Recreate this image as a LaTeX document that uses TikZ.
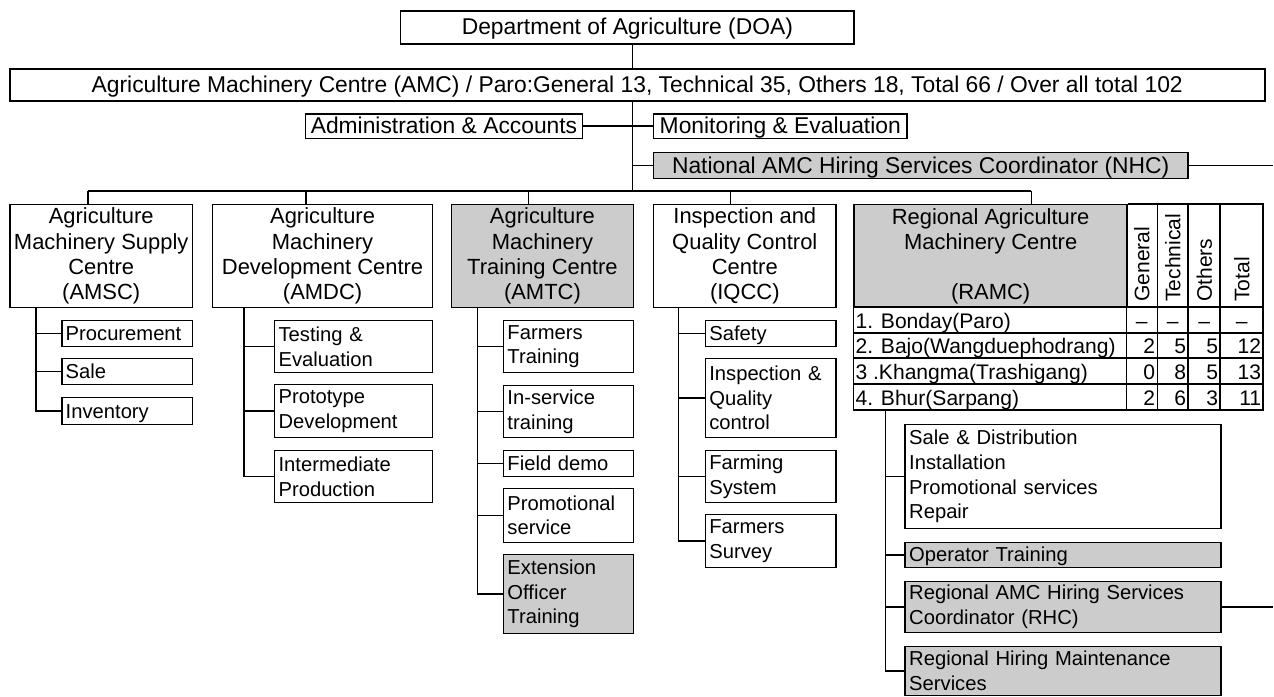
\documentclass[tikz,border=0pt]{standalone}
\usepackage{fontspec}
\setmainfont{Liberation Sans}

\tikzstyle{unit} = [rectangle, draw, line width=0.9pt, inner sep=0pt, anchor=north west, align=center]
\tikzstyle{office} = [unit, font=\fontsize{13}{15}\selectfont, text height=11pt, text depth=2.4pt]
\tikzstyle{centre} = [unit, font=\fontsize{12.5}{14.5}\selectfont]
\tikzstyle{task} = [unit, align=left, inner xsep=0.08cm, font=\fontsize{11.5}{14}\selectfont]
\tikzstyle{oneline} = [text height=10pt, text depth=2pt]
\tikzstyle{shaded} = [fill=gray!40]
\tikzstyle{line} = [draw, line width=0.9pt]
\tikzstyle{cell} = [inner sep=1pt, text height=10.5pt, text depth=1pt]
\tikzstyle{head} = [inner sep=1pt, rotate=90, anchor=west]
% one width per column of tasks
\tikzstyle{supplycol} = [task, text width=2.46cm]
\tikzstyle{develcol} = [task, text width=3.0cm]
\tikzstyle{traincol} = [task, text width=2.44cm]
\tikzstyle{inspectcol} = [task, text width=2.46cm]
\tikzstyle{regioncol} = [task, text width=6.16cm]

\begin{document}
\begin{tikzpicture}[x=0.02cm, y=-0.02cm, font=\fontsize{12}{14}\selectfont]
    \path[fill=white] (0,0) rectangle (1274,697);

    % head office
    \node[office, minimum width=9.08cm, minimum height=0.66cm] (DOA) at (400,10)
            {Department of Agriculture (DOA)};
    \node[office, minimum width=25.12cm, minimum height=0.64cm] (AMC) at (9,68)
            {Agriculture Machinery Centre (AMC) / Paro:General 13, Technical 35, Others 18, Total 66 / Over all total 102};
    \node[office, minimum width=5.54cm, minimum height=0.5cm] (Admin) at (305,113)
            {Administration \& Accounts};
    \node[office, minimum width=5.08cm, minimum height=0.5cm] (Monitor) at (653,113)
            {Monitoring \& Evaluation};
    \node[office, shaded, minimum width=10.7cm, minimum height=0.52cm] (NHC) at (653,152)
            {National AMC Hiring Services Coordinator (NHC)};

    % centres
    \node[centre, minimum width=3.66cm, minimum height=2.06cm] (AMSC) at (9,204)
            {Agriculture\\Machinery Supply\\Centre\\(AMSC)};
    \node[centre, minimum width=4.4cm, minimum height=2.06cm] (AMDC) at (212,204)
            {Agriculture\\Machinery\\Development Centre\\(AMDC)};
    \node[centre, shaded, minimum width=3.64cm, minimum height=2.06cm] (AMTC) at (451,204)
            {Agriculture\\Machinery\\Training Centre\\(AMTC)};
    \node[centre, minimum width=3.66cm, minimum height=2.06cm] (IQCC) at (653,204)
            {Inspection and\\Quality Control\\Centre\\(IQCC)};
    \node[centre, shaded, minimum width=5.46cm, minimum height=2.06cm] (RAMC) at (854,204)
            {Regional Agriculture\\Machinery Centre\\[14pt](RAMC)};

    % RAMC staff table
    \draw[line] (RAMC.north east) -- (1264,204) -- (1264,410) -- (854,410) -- (RAMC.south west)
        (854,307) -- (1264,307) (854,333) -- (1264,333)
        (854,358) -- (1264,358) (854,384) -- (1264,384)
        (1127,204) -- (1127,410) (1158,204) -- (1158,410)
        (1189,204) -- (1189,410) (1221,204) -- (1221,410);
    \node[head] (hGeneral) at (1142.5,304) {General};
    \node[head] (hTechnical) at (1173.5,304) {Technical};
    \node[head] (hOthers) at (1205,304) {Others};
    \node[head] (hTotal) at (1242.5,304) {Total};

    \node[cell, anchor=west] (Bonday) at (854,320) {1. Bonday(Paro)};
    \node[cell] at (1142.5,320) {--};
    \node[cell] at (1173.5,320) {--};
    \node[cell] at (1205,320) {--};
    \node[cell] at (1242.5,320) {--};
    \node[cell, anchor=west] (Bajo) at (854,345.5) {2. Bajo(Wangduephodrang)};
    \node[cell, anchor=east] at (1158,345.5) {2};
    \node[cell, anchor=east] at (1189,345.5) {5};
    \node[cell, anchor=east] at (1221,345.5) {5};
    \node[cell, anchor=east] at (1264,345.5) {12};
    \node[cell, anchor=west] (Khangma) at (854,371) {3 .Khangma(Trashigang)};
    \node[cell, anchor=east] at (1158,371) {0};
    \node[cell, anchor=east] at (1189,371) {8};
    \node[cell, anchor=east] at (1221,371) {5};
    \node[cell, anchor=east] at (1264,371) {13};
    \node[cell, anchor=west] (Bhur) at (854,397) {4. Bhur(Sarpang)};
    \node[cell, anchor=east] at (1158,397) {2};
    \node[cell, anchor=east] at (1189,397) {6};
    \node[cell, anchor=east] at (1221,397) {3};
    \node[cell, anchor=east] at (1264,397) {11};

    % tasks of each centre
    \node[supplycol, oneline, minimum height=0.52cm] (Procurement) at (61,320) {Procurement};
    \node[supplycol, oneline, minimum height=0.52cm] (Sale) at (61,358) {Sale};
    \node[supplycol, oneline, minimum height=0.54cm] (Inventory) at (61,397) {Inventory};

    \node[develcol, minimum height=1.04cm] (Testing) at (274,320) {Testing \&\\Evaluation};
    \node[develcol, minimum height=1.06cm] (Prototype) at (274,384) {Prototype\\Development};
    \node[develcol, minimum height=1.04cm] (Intermediate) at (274,450) {Intermediate\\Production};

    \node[traincol, minimum height=1.04cm] (FarmersTr) at (503,320) {Farmers\\Training};
    \node[traincol, minimum height=1.04cm] (InService) at (503,385) {In-service\\training};
    \node[traincol, oneline, minimum height=0.52cm] (FieldDemo) at (503,450) {Field demo};
    \node[traincol, minimum height=1.08cm] (Promo) at (503,488) {Promotional\\service};
    \node[traincol, shaded, minimum height=1.58cm] (ExtOfficer) at (503,554) {Extension\\Officer\\Training};

    \node[inspectcol, oneline, minimum height=0.52cm] (Safety) at (705,320) {Safety};
    \node[inspectcol, minimum height=1.58cm] (InspQC) at (705,358) {Inspection \&\\Quality\\control};
    \node[inspectcol, minimum height=1.04cm] (FarmSys) at (705,450) {Farming\\System};
    \node[inspectcol, minimum height=1.06cm] (FarmSurvey) at (705,514) {Farmers\\Survey};

    \node[regioncol, minimum height=2.08cm] (SaleDist) at (905,424)
            {Sale \& Distribution\\Installation\\Promotional services\\Repair};
    \node[regioncol, oneline, shaded, minimum height=0.5cm] (OpTrain) at (905,542) {Operator Training};
    \node[regioncol, shaded, minimum height=1.02cm] (RHC) at (905,581)
            {Regional AMC Hiring Services\\Coordinator (RHC)};
    \node[regioncol, shaded, minimum height=0.98cm] (RHM) at (905,646)
            {Regional Hiring Maintenance\\Services};

    % junctions
    \coordinate (trunk) at (633,191);
    \coordinate (dAMSC) at (88,191);
    \coordinate (dAMDC) at (306,191);
    \coordinate (dAMTC) at (529,191);
    \coordinate (dIQCC) at (731,191);
    \coordinate (dRAMC) at (1032,191);
    \coordinate (tAMSC) at (36,307);
    \coordinate (tAMDC) at (244,307);
    \coordinate (tAMTC) at (478,307);
    \coordinate (tIQCC) at (679,307);
    \coordinate (tRAMC) at (886,410);
    \coordinate (edge) at (1274,0);

    \path[line] (trunk |- DOA.south) -- (trunk |- AMC.north);
    \path[line] (trunk |- AMC.south) -- (trunk);
    \path[line] (Admin.east) -- (trunk |- Admin.east);
    \path[line] (trunk |- Monitor.west) -- (Monitor.west);
    \path[line] (trunk |- NHC.west) -- (NHC.west);
    \path[line] (NHC.east) -- (NHC.east -| edge);

    \path[line] (dAMSC) -- (dRAMC);
    \path[line] (dAMSC) -- (dAMSC |- AMSC.north);
    \path[line] (dAMDC) -- (dAMDC |- AMDC.north);
    \path[line] (dAMTC) -- (dAMTC |- AMTC.north);
    \path[line] (dIQCC) -- (dIQCC |- IQCC.north);
    \path[line] (dRAMC) -- (dRAMC |- RAMC.north);

    \path[line] (tAMSC) |- (Inventory.west);
    \path[line] (tAMSC |- Procurement.west) -- (Procurement.west);
    \path[line] (tAMSC |- Sale.west) -- (Sale.west);

    \path[line] (tAMDC) |- (Intermediate.west);
    \path[line] (tAMDC |- Testing.west) -- (Testing.west);
    \path[line] (tAMDC |- Prototype.west) -- (Prototype.west);

    \path[line] (tAMTC) |- (ExtOfficer.west);
    \path[line] (tAMTC |- FarmersTr.west) -- (FarmersTr.west);
    \path[line] (tAMTC |- InService.west) -- (InService.west);
    \path[line] (tAMTC |- FieldDemo.west) -- (FieldDemo.west);
    \path[line] (tAMTC |- Promo.west) -- (Promo.west);

    \path[line] (tIQCC) |- (FarmSurvey.west);
    \path[line] (tIQCC |- Safety.west) -- (Safety.west);
    \path[line] (tIQCC |- InspQC.west) -- (InspQC.west);
    \path[line] (tIQCC |- FarmSys.west) -- (FarmSys.west);

    \path[line] (tRAMC) |- (RHM.west);
    \path[line] (tRAMC |- SaleDist.west) -- (SaleDist.west);
    \path[line] (tRAMC |- OpTrain.west) -- (OpTrain.west);
    \path[line] (tRAMC |- RHC.west) -- (RHC.west);
    \path[line] (RHC.east) -- (RHC.east -| edge);
\end{tikzpicture}
\end{document}
